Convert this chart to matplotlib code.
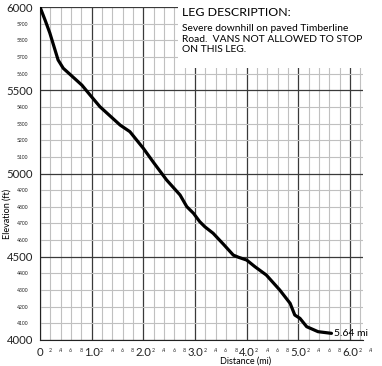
import matplotlib
matplotlib.use("Agg")
import matplotlib.pyplot as plt
from matplotlib.ticker import MultipleLocator, FuncFormatter
from matplotlib.patches import Rectangle

# Elevation profile
dist = [0, 0.1, 0.19, 0.35, 0.45, 0.6, 0.81, 0.97, 1.16, 1.55, 1.74, 2.0, 2.2,
        2.45, 2.71, 2.84, 2.97, 3.09, 3.19, 3.35, 3.55, 3.74, 3.84, 4.0, 4.16,
        4.38, 4.64, 4.84, 4.93, 5.03, 5.16, 5.38, 5.64]
elev = [6000, 5920, 5844, 5682, 5632, 5590, 5531, 5471, 5401, 5291, 5251, 5151,
        5065, 4961, 4871, 4801, 4761, 4711, 4680, 4641, 4575, 4510, 4497, 4480,
        4440, 4390, 4300, 4220, 4150, 4130, 4080, 4050, 4040]

title = "LEG DESCRIPTION:"
desc = "Severe downhill on paved Timberline\nRoad.  VANS NOT ALLOWED TO STOP\nON THIS LEG."
end_label = "5.64 mi"

plt.rcParams['font.family'] = ['Lato', 'DejaVu Sans']

fig = plt.figure(figsize=(3.82, 3.66), dpi=100)
ax = fig.add_axes([40/382, 1 - 340/366, 323/382, 333/366])

ax.set_xlim(0, 6.25)
ax.set_ylim(4000, 6000)

# grid: heavy every mile / 500 ft, light every .2 mi / 100 ft
ax.xaxis.set_major_locator(MultipleLocator(1.0))
ax.xaxis.set_minor_locator(MultipleLocator(0.2))
ax.yaxis.set_major_locator(MultipleLocator(500))
ax.yaxis.set_minor_locator(MultipleLocator(100))
ax.grid(which='minor', color='#c0c0c0', lw=0.8)
ax.grid(which='major', color='#3a3a3a', lw=0.9)
ax.set_axisbelow(True)

for s in ['top', 'right']:
    ax.spines[s].set_visible(False)
ax.spines['left'].set_color('#222222')
ax.spines['bottom'].set_color('#222222')

# tick labels
ax.xaxis.set_major_formatter(FuncFormatter(lambda v, p: '0' if v == 0 else f'{v:.1f}'))
ax.xaxis.set_minor_formatter(FuncFormatter(lambda v, p: '.' + str(int(round(v * 10)) % 10)))
ax.yaxis.set_minor_formatter(FuncFormatter(lambda v, p: f'{int(round(v))}'))
ax.tick_params(axis='both', which='both', length=0, labelcolor='#222222')
ax.tick_params(axis='x', which='major', labelsize=8.2, pad=5)
ax.tick_params(axis='x', which='minor', labelsize=3.6, pad=5.5)
ax.tick_params(axis='y', which='major', labelsize=8.2, pad=5)
ax.tick_params(axis='y', which='minor', labelsize=3.6, pad=8.5)

# extra ".4" label just past the end of the grid
ax.text(6.4, -8 / 333, '.4', fontsize=3.6, ha='center', va='top', color='#222222',
        transform=ax.get_xaxis_transform(), clip_on=False)

ax.set_xlabel('Distance (mi)', fontsize=6.5)
ax.xaxis.set_label_coords(0.636, -0.05)
ax.set_ylabel('Elevation (ft)', fontsize=6.5)
ax.yaxis.set_label_coords(-0.088, 0.38)

# white box behind the leg description
ax.add_patch(Rectangle((138 / 323, 1 - 61 / 333), 1, 1, transform=ax.transAxes,
                       facecolor='white', edgecolor='none', zorder=2, clip_on=False))

ax.plot(dist, elev, color='black', lw=2.3, zorder=3, solid_capstyle='round')
ax.text(dist[-1] + 0.04, elev[-1], end_label, fontsize=7.5, va='center', ha='left', zorder=4)

fig.text(182/382, 1 - 13/366, title, fontsize=8.9, va='center', ha='left')
fig.text(182/382, 1 - 24/366, desc, fontsize=7.4, va='top', ha='left', linespacing=1.25)

fig.savefig('out.png', dpi=100)
